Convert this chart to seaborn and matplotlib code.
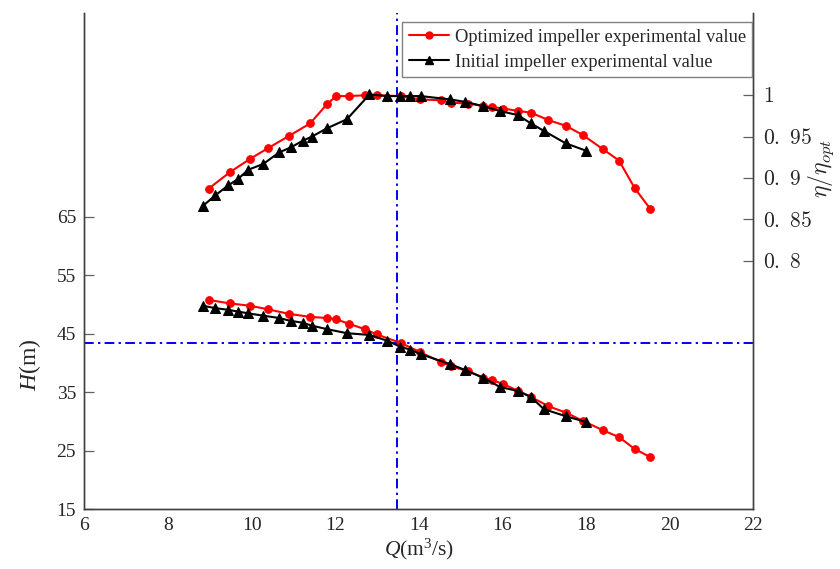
import matplotlib
matplotlib.use("Agg")
import matplotlib.pyplot as plt
from matplotlib.lines import Line2D
from matplotlib.ticker import MultipleLocator
import seaborn as sns
import pandas as pd

# Optimized impeller: flow rate, head, relative efficiency
q_opt = [8.97, 9.48, 9.96, 10.39, 10.90, 11.40, 11.80, 12.02, 12.33, 12.71, 12.99,
         13.58, 14.02, 14.52, 14.78, 15.18, 15.54, 15.74, 16.02, 16.38, 16.68,
         17.10, 17.52, 17.92, 18.40, 18.79, 19.16, 19.53]
h_opt = [50.8, 50.2, 49.8, 49.2, 48.4, 47.9, 47.7, 47.5, 46.7, 45.8, 44.9,
         43.4, 41.9, 40.2, 39.4, 38.6, 37.5, 37.1, 36.4, 35.2, 34.2,
         32.6, 31.5, 30.1, 28.5, 27.3, 25.3, 23.9]
eta_opt = [0.887, 0.907, 0.923, 0.936, 0.951, 0.966, 0.989, 0.999, 0.999, 1.000, 1.000,
           0.999, 0.995, 0.994, 0.991, 0.990, 0.987, 0.986, 0.984, 0.981, 0.979,
           0.970, 0.963, 0.952, 0.935, 0.921, 0.888, 0.863]

# Initial impeller: flow rate, head, relative efficiency
q_ini = [8.83, 9.13, 9.44, 9.68, 9.92, 10.28, 10.66, 10.94, 11.22, 11.44, 11.80,
         12.28, 12.82, 13.25, 13.55, 13.79, 14.05, 14.75, 15.11, 15.53, 15.94,
         16.37, 16.68, 16.99, 17.51, 18.00]
h_ini = [49.8, 49.4, 49.1, 48.8, 48.5, 48.1, 47.7, 47.2, 46.9, 46.4, 45.8,
         45.1, 44.8, 43.8, 42.8, 42.3, 41.5, 39.8, 38.8, 37.5, 35.9,
         35.2, 34.2, 32.1, 30.9, 29.9]
eta_ini = [0.866, 0.879, 0.891, 0.899, 0.910, 0.917, 0.931, 0.937, 0.945, 0.950, 0.960,
           0.971, 1.001, 0.999, 0.999, 0.999, 0.999, 0.995, 0.992, 0.987, 0.981,
           0.976, 0.966, 0.957, 0.942, 0.933]

# Design point reference lines
q_design = 13.48
h_design = 43.4

h_ticks = [15, 25, 35, 45, 55, 65]
eta_ticks = [0.8, 0.85, 0.9, 0.95, 1.0]
eta_tick_labels = [r"$0.\ 8$", r"$0.\ 85$", r"$0.\ 9$", r"$0.\ 95$", r"$1$"]
q_ticks = [6, 8, 10, 12, 14, 16, 18, 20, 22]

sns.set_style("white")
plt.rcParams["font.family"] = ["Liberation Serif", "DejaVu Serif"]
plt.rcParams["mathtext.fontset"] = "custom"
plt.rcParams["mathtext.rm"] = "Liberation Serif"
plt.rcParams["mathtext.it"] = "Liberation Serif:italic"

df_opt = pd.DataFrame({"Q": q_opt, "H": h_opt, "eta": eta_opt})
df_ini = pd.DataFrame({"Q": q_ini, "H": h_ini, "eta": eta_ini})

fig = plt.figure(figsize=(8.4, 5.69), dpi=100)
ax = fig.add_axes([0.1004, 0.1054, 0.7964, 0.8726])
ax2 = ax.twinx()

red = "#ff0000"
black = "#000000"
opt_style = dict(color=red, marker="o", markersize=5.5, markeredgecolor=red,
                 linewidth=1.5, estimator=None, sort=False, legend=False)
ini_style = dict(color=black, marker="^", markersize=6.5, markeredgecolor=black,
                 linewidth=1.5, estimator=None, sort=False, legend=False)

# Head curves on the left axis
sns.lineplot(data=df_opt, x="Q", y="H", ax=ax, **opt_style)
sns.lineplot(data=df_ini, x="Q", y="H", ax=ax, **ini_style)
# Efficiency curves on the right axis
sns.lineplot(data=df_opt, x="Q", y="eta", ax=ax2, **opt_style)
sns.lineplot(data=df_ini, x="Q", y="eta", ax=ax2, **ini_style)

dashdot = (0, (5, 2.2, 1.2, 2.2))
ax.axhline(h_design, color="#0000ff", linewidth=1.4, linestyle=dashdot, zorder=1)
ax.axvline(q_design, color="#0000ff", linewidth=1.4, linestyle=dashdot, zorder=1)

ax.set_xlim(6, 22)
ax.set_ylim(15, 100)
ax2.set_ylim(0.5, 1.1)

ax.set_xticks(q_ticks)
ax.xaxis.set_minor_locator(MultipleLocator(1))
ax.set_yticks(h_ticks)
ax2.set_yticks(eta_ticks)
ax2.set_yticklabels(eta_tick_labels)
for lab in ax2.get_yticklabels():
    lab.set_math_fontfamily("cm")
    lab.set_fontsize(15.5)

spine_color = "#404040"
for a in (ax, ax2):
    a.spines["top"].set_visible(False)
    for s in ("left", "right", "bottom"):
        a.spines[s].set_color(spine_color)
        a.spines[s].set_linewidth(1.0)

ax.tick_params(axis="both", which="major", direction="in", length=7,
               width=0.9, color="#606060", labelsize=14, pad=6)
ax.tick_params(axis="x", which="minor", direction="in", length=4,
               width=0.9, color="#606060")
ax.tick_params(axis="y", which="minor", length=0)
ax2.tick_params(axis="y", which="major", direction="in", length=7,
                width=0.9, color="#606060", pad=7)

ax.set_xlabel(r"$Q$(m$^3$/s)", fontsize=15.5, labelpad=2)
ax.set_ylabel(r"$H$(m)", fontsize=17)
ax.yaxis.set_label_coords(-0.062, 0.29)
ax2.set_ylabel("")
ax2.text(1.102, 0.685, r"$\eta/\eta_{opt}$", transform=ax.transAxes,
         rotation=90, fontsize=17, math_fontfamily="cm",
         ha="center", va="center")

handles = [
    Line2D([], [], color=red, marker="o", markersize=5, linewidth=1.5),
    Line2D([], [], color=black, marker="^", markersize=6, linewidth=1.5),
]
labels = ["Optimized impeller experimental value",
          "Initial impeller experimental value"]
leg = ax2.legend(handles, labels, loc="upper right",
                 bbox_to_anchor=(0.9985, 0.98), fontsize=13.3,
                 frameon=True, fancybox=False, framealpha=1,
                 edgecolor="#808080", borderpad=0.35, labelspacing=0.42,
                 handlelength=2.2, handletextpad=0.3, borderaxespad=0.0)
leg.get_frame().set_linewidth(1.0)

fig.savefig("out.png", dpi=100)
